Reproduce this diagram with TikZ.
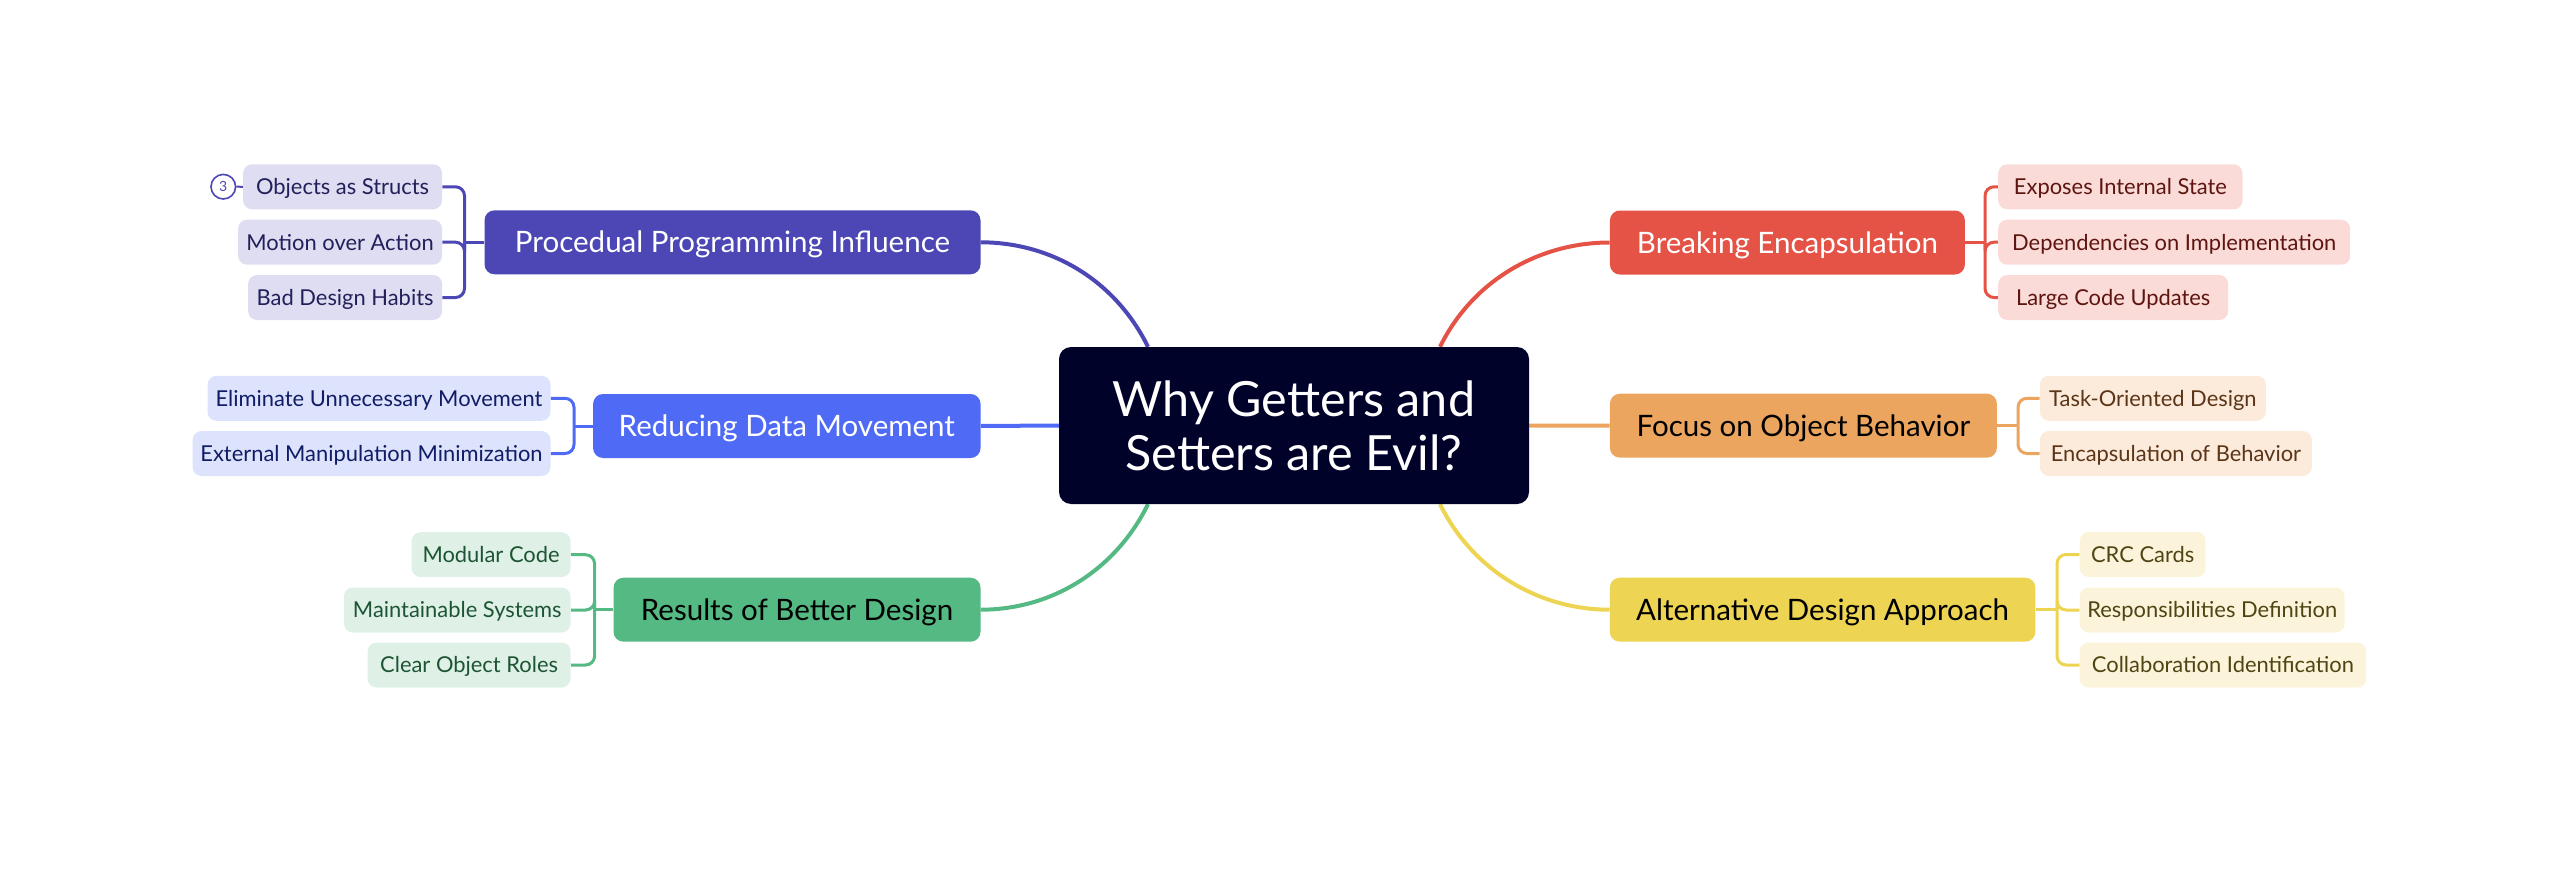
\documentclass[tikz,border=0pt]{standalone}
\usepackage{fontspec}
\setmainfont{Lato}
\usetikzlibrary{calc,backgrounds}

% branch palettes: main colour, pale fill, dark text
\definecolor{pMain}{HTML}{4C47B5}\definecolor{pFill}{HTML}{DEDDF1}\definecolor{pText}{HTML}{22205A}
\definecolor{bMain}{HTML}{4F6AF5}\definecolor{bFill}{HTML}{DDE3FC}\definecolor{bText}{HTML}{101C66}
\definecolor{gMain}{HTML}{54B982}\definecolor{gFill}{HTML}{DFF1E6}\definecolor{gText}{HTML}{1D5534}
\definecolor{rMain}{HTML}{E55347}\definecolor{rFill}{HTML}{FADBD8}\definecolor{rText}{HTML}{5E1510}
\definecolor{oMain}{HTML}{EBA55E}\definecolor{oFill}{HTML}{FCEADB}\definecolor{oText}{HTML}{5B3517}
\definecolor{yMain}{HTML}{EDD452}\definecolor{yFill}{HTML}{FCF4DA}\definecolor{yText}{HTML}{4F4413}
\definecolor{coreFill}{HTML}{00022A}

% single-line labels are sized to their capitals so they sit centred on the caps
\tikzset{
  core/.style={fill=coreFill, text=white, rounded corners=12pt, align=center,
    minimum width=470pt, minimum height=157pt, inner sep=0pt,
    font=\fontsize{48.5}{54}\selectfont},
  topic/.style={fill=#1, rounded corners=10pt, minimum height=64pt, inner sep=0pt,
    text height=21pt, text depth=0pt,
    font=\fontsize{29.5}{34}\selectfont},
  leaf/.style={fill=#1, rounded corners=9pt, minimum height=45pt, inner sep=0pt,
    text height=15.8pt, text depth=0pt,
    font=\fontsize{21.9}{26}\selectfont},
  mainlink/.style={draw=#1, line width=4pt},
  leaflink/.style={draw=#1, line width=3pt},
}

\begin{document}
\begin{tikzpicture}[x=1pt, y=-1pt]
\useasboundingbox (0,0) rectangle (2562,872);

% central topic
\node[core] (c) at (1294,425.5) {Why Getters and\\Setters are Evil?};

% main topics
\node[topic=pMain, text=white, minimum width=496pt]   (pp) at (732.5,242.3) {Procedual Programming Influence};
\node[topic=bMain, text=white, minimum width=387.5pt] (rd) at (786.8,426)   {Reducing Data Movement};
\node[topic=gMain, text=black, minimum width=367pt]   (rs) at (797,609.7)   {Results of Better Design};
\node[topic=rMain, text=white, minimum width=355pt]   (bk) at (1787.4,242.5) {Breaking Encapsulation};
\node[topic=oMain, text=black, minimum width=387pt]   (fc) at (1803.4,425.7) {Focus on Object Behavior};
\node[topic=yMain, text=black, minimum width=425.6pt] (al) at (1822.6,609.7) {Alternative Design Approach};

% leaves, left side (right edges aligned)
\node[leaf=pFill, text=pText, minimum width=199pt, anchor=east] (p1) at (442.3,186.8) {Objects as Structs};
\node[leaf=pFill, text=pText, minimum width=204pt, anchor=east] (p2) at (442.3,242.2) {Motion over Action};
\node[leaf=pFill, text=pText, minimum width=194pt, anchor=east] (p3) at (442.3,297.5) {Bad Design Habits};
\node[leaf=bFill, text=bText, minimum width=343pt, anchor=east] (b1) at (550.7,398.3) {Eliminate Unnecessary Movement};
\node[leaf=bFill, text=bText, minimum width=358pt, anchor=east] (b2) at (550.7,453.5) {External Manipulation Minimization};
\node[leaf=gFill, text=gText, minimum width=159pt, anchor=east] (g1) at (570.8,554.7) {Modular Code};
\node[leaf=gFill, text=gText, minimum width=226.6pt, anchor=east] (g2) at (570.8,610) {Maintainable Systems};
\node[leaf=gFill, text=gText, minimum width=203pt, anchor=east] (g3) at (570.8,665) {Clear Object Roles};

% leaves, right side (left edges aligned)
\node[leaf=rFill, text=rText, minimum width=244.4pt, anchor=west] (r1) at (1998,186.8) {Exposes Internal State};
\node[leaf=rFill, text=rText, minimum width=352pt, anchor=west]   (r2) at (1998,242.2) {Dependencies on Implementation};
\node[leaf=rFill, text=rText, minimum width=230pt, anchor=west]   (r3) at (1998,297.5) {Large Code Updates};
\node[leaf=oFill, text=oText, minimum width=226pt, anchor=west]   (o1) at (2039.7,398.3) {Task-Oriented Design};
\node[leaf=oFill, text=oText, minimum width=272pt, anchor=west]   (o2) at (2039.7,453.5) {Encapsulation of Behavior};
\node[leaf=yFill, text=yText, minimum width=126pt, anchor=west]   (y1) at (2079.5,554.5) {CRC Cards};
\node[leaf=yFill, text=yText, minimum width=265pt, anchor=west]   (y2) at (2079.5,610) {Responsibilities Definition};
\node[leaf=yFill, text=yText, minimum width=286.5pt, anchor=west] (y3) at (2079.5,665) {Collaboration Identification};

% count badge
\node[draw=pMain, line width=1.6pt, circle, minimum size=24.6pt, inner sep=0pt,
      text=pMain, font=\fontsize{14}{16}\selectfont] (n3) at (223.3,186.7) {3};

% spine positions of the leaf brackets
\coordinate (ps) at (464.5,0);
\coordinate (bs) at (574,0);
\coordinate (gs) at (594.6,0);
\coordinate (rsp) at (1985,0);
\coordinate (os) at (2018,0);
\coordinate (ys) at (2057,0);

\begin{scope}[on background layer]
% links from the central topic
\draw[mainlink=pMain] (pp.east) .. controls +(70,0) and +(-33,-67) .. ($(c.north)+(-146,0)$);
\draw[mainlink=gMain] (rs.east) .. controls +(70,0) and +(-33,67) .. ($(c.south)+(-146,0)$);
\draw[mainlink=rMain] (bk.west) .. controls +(-70,0) and +(33,-67) .. ($(c.north)+(146,0)$);
\draw[mainlink=yMain] (al.west) .. controls +(-70,0) and +(33,67) .. ($(c.south)+(146,0)$);
\draw[mainlink=bMain] (rd.east) -- (c.west);
\draw[mainlink=oMain] (c.east) -- (fc.west);

% leaf brackets
\draw[leaflink=pMain] (pp.west) -- (pp.west -| ps);
\foreach \n in {p1,p2,p3} \draw[leaflink=pMain, rounded corners=9pt] (pp.west -| ps) |- (\n.east);
\draw[leaflink=bMain] (rd.west) -- (rd.west -| bs);
\foreach \n in {b1,b2} \draw[leaflink=bMain, rounded corners=9pt] (rd.west -| bs) |- (\n.east);
\draw[leaflink=gMain] (rs.west) -- (rs.west -| gs);
\foreach \n in {g1,g2,g3} \draw[leaflink=gMain, rounded corners=9pt] (rs.west -| gs) |- (\n.east);
\draw[leaflink=rMain] (bk.east) -- (bk.east -| rsp);
\foreach \n in {r1,r2,r3} \draw[leaflink=rMain, rounded corners=9pt] (bk.east -| rsp) |- (\n.west);
\draw[leaflink=oMain] (fc.east) -- (fc.east -| os);
\foreach \n in {o1,o2} \draw[leaflink=oMain, rounded corners=9pt] (fc.east -| os) |- (\n.west);
\draw[leaflink=yMain] (al.east) -- (al.east -| ys);
\foreach \n in {y1,y2,y3} \draw[leaflink=yMain, rounded corners=9pt] (al.east -| ys) |- (\n.west);

% badge tie
\draw[draw=pMain, line width=2pt] (n3.east) -- (p1.west);
\end{scope}
\end{tikzpicture}
\end{document}
